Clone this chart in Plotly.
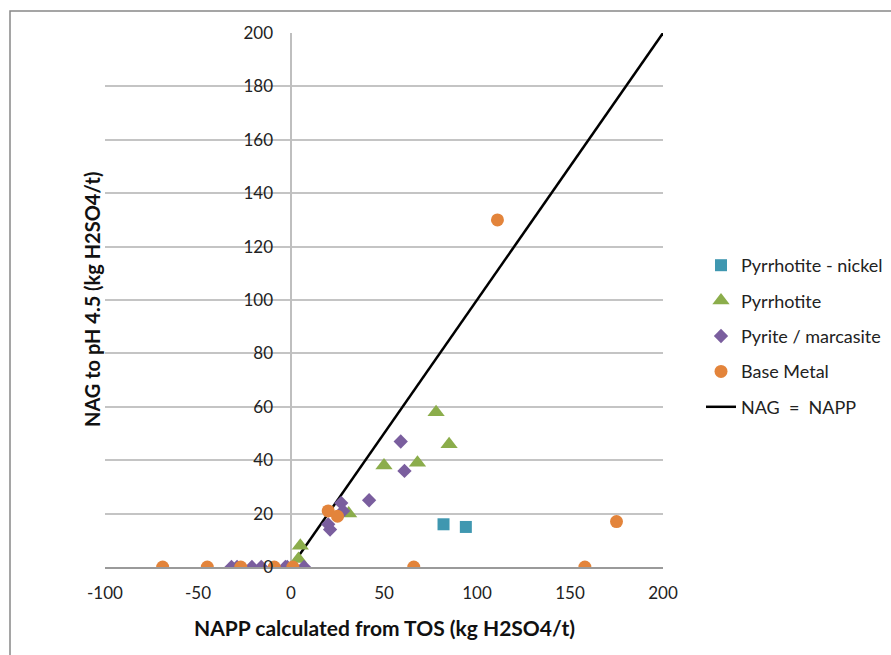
import plotly.graph_objects as go

# ---- data ----
ni_x = [82, 94]
ni_y = [16, 15]

po_x = [4, 5, 31, 50, 68, 78, 85]
po_y = [3, 8, 20, 38, 39, 58, 46]

py_x = [-32, -29, -21, -16, -3, -2, 7, 20, 21, 27, 28, 42, 59, 61]
py_y = [0, 0, 0, 0, 0, 0, 0, 16, 14, 24, 21, 25, 47, 36]

bm_x = [-69, -45, -27, -9, 1, 20, 25, 66, 158, 175, 111]
bm_y = [0, 0, 0, 0, 0, 21, 19, 0, 0, 17, 130]

line_x = [0, 200]
line_y = [0, 200]

x_ticks = [-100, -50, 0, 50, 100, 150, 200]
x_tick_text = ["-100", "-50", "0", "50", "100", "150", "200"]
y_ticks = [0, 20, 40, 60, 80, 100, 120, 140, 160, 180, 200]

FONT = "Lato"

fig = go.Figure()
fig.add_trace(go.Scatter(x=line_x, y=line_y, mode="lines", name="NAG  =  NAPP",
                         line=dict(color="black", width=2.5), legendrank=5,
                         legendgroup="e"))
fig.add_trace(go.Scatter(x=ni_x, y=ni_y, mode="markers", name="Pyrrhotite - nickel",
                         marker=dict(symbol="square", size=12, color="#3F97B0"),
                         legendrank=1, legendgroup="a"))
fig.add_trace(go.Scatter(x=po_x, y=po_y, mode="markers", name="Pyrrhotite",
                         marker=dict(symbol="triangle-up", size=15, color="#8BAD4B"),
                         legendrank=2, legendgroup="b"))
fig.add_trace(go.Scatter(x=py_x, y=py_y, mode="markers", name="Pyrite / marcasite",
                         marker=dict(symbol="diamond", size=11, color="#7A5E9E"),
                         legendrank=3, legendgroup="c"))
fig.add_trace(go.Scatter(x=bm_x, y=bm_y, mode="markers", name="Base Metal",
                         marker=dict(symbol="circle", size=13, color="#E3843B"),
                         legendrank=4, legendgroup="d"))

L, R, T, B = 105, 228, 33, 88
W, H = 891, 655
pw, ph = W - L - R, H - T - B

def px(xp):
    return (xp - L) / pw

def py(yp):
    return (H - B - yp) / ph

fig.update_layout(
    width=W, height=H,
    margin=dict(l=L, r=R, t=T, b=B, autoexpand=False),
    paper_bgcolor="white", plot_bgcolor="white",
    font=dict(family=FONT, size=17, color="#222"),
    showlegend=True,
    legend=dict(x=px(701), y=py(247), xanchor="left", yanchor="top",
                font=dict(size=18, color="#222"), tracegroupgap=9,
                bgcolor="rgba(0,0,0,0)"),
    xaxis=dict(range=[-100, 200], tickvals=x_ticks, ticktext=x_tick_text,
               showgrid=False, zeroline=True,
               zerolinecolor="#BFBFBF", zerolinewidth=1.5,
               showline=True, linecolor="#9A9A9A", linewidth=1.5,
               ticks="", ticklabelstandoff=10, fixedrange=True),
    yaxis=dict(range=[0, 200], tickvals=y_ticks, showgrid=True, gridcolor="#C4C4C4",
               gridwidth=1.5, zeroline=False, showline=False,
               anchor="free", position=1/3, ticks="", ticklabelstandoff=18,
               fixedrange=True),
    annotations=[
        dict(text="<b>NAG to pH 4.5 (kg H2SO4/t)</b>", textangle=-90,
             xref="paper", yref="paper", x=px(92), y=py(300), showarrow=False,
             xanchor="center", yanchor="middle", font=dict(size=20, color="#111")),
        dict(text="<b>NAPP calculated from TOS (kg H2SO4/t)</b>",
             xref="paper", yref="paper", x=px(384), y=py(627), showarrow=False,
             xanchor="center", yanchor="middle", font=dict(size=21, color="#111")),
    ],
    shapes=[
        dict(type="rect", xref="paper", yref="paper", x0=px(10), x1=px(905),
             y0=py(700), y1=py(11), line=dict(color="#888888", width=1.5),
             fillcolor="rgba(0,0,0,0)", layer="below"),
    ],
)

fig.write_html("out.html")
